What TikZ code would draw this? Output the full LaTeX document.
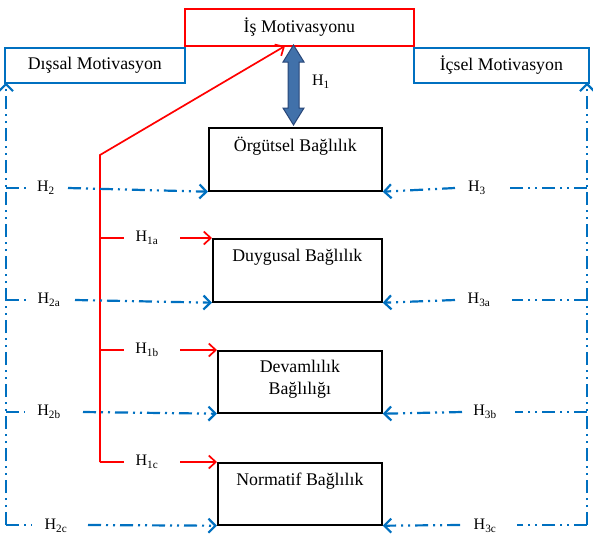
\documentclass[tikz,border=0pt]{standalone}
\usepackage{fontspec}
\setmainfont{Liberation Serif}
\usetikzlibrary{arrows.meta}
\definecolor{bl}{RGB}{0,112,192}
\definecolor{rd}{RGB}{255,0,0}
\definecolor{afill}{RGB}{65,113,170}
\definecolor{aline}{RGB}{40,70,120}
\tikzset{
  box/.style={draw=black,line width=1.7pt,anchor=north west,inner sep=0pt},
  redbox/.style={draw=rd,line width=1.7pt,anchor=north west,inner sep=0pt},
  bluebox/.style={draw=bl,line width=1.7pt,anchor=north west,inner sep=0pt},
  txt/.style={font=\fontsize{17.8}{21}\selectfont,inner sep=0pt,align=center},
  hl/.style={font=\fontsize{16}{18}\selectfont,inner sep=0pt},
  bline/.style={draw=bl,line width=2.2pt,dash pattern=on 13pt off 5pt on 2pt off 5pt on 2pt off 5pt},
  btip/.style={-{Straight Barb[length=7pt,width=14pt,line width=2.2pt]}},
  rline/.style={draw=rd,line width=1.7pt},
  rtip/.style={-{Straight Barb[length=7pt,width=13pt,line width=1.7pt]}},
}
\begin{document}
\begin{tikzpicture}[x=1pt,y=-1pt]
\useasboundingbox (0,0) rectangle (593,555);
% boxes
\node[redbox,minimum width=229pt,minimum height=37pt] (ism) at (184,8) {};
\node[txt] (ismT) at (ism.center) {İş Motivasyonu};
\node[bluebox,minimum width=180pt,minimum height=35pt] (dis) at (4,47) {};
\node[txt] (disT) at (dis.center) {Dışsal Motivasyon};
\node[bluebox,minimum width=175pt,minimum height=35pt] (ic) at (413,47) {};
\node[txt] (icT) at (ic.center) {İçsel Motivasyon};
\node[box,minimum width=173pt,minimum height=63pt] (org) at (208,127) {};
\node[txt] (orgT) at ([yshift=-19pt]org.north) {Örgütsel Bağlılık};
\node[box,minimum width=169pt,minimum height=63pt] (duy) at (212,238) {};
\node[txt] (duyT) at ([yshift=-19pt]duy.north) {Duygusal Bağlılık};
\node[box,minimum width=164pt,minimum height=62pt] (dev) at (217,350) {};
\node[txt] (devT) at ([yshift=-29pt]dev.north) {Devamlılık\\[1pt]Bağlılığı};
\node[box,minimum width=164pt,minimum height=62pt] (nor) at (217,462) {};
\node[txt] (norT) at ([yshift=-19pt]nor.north) {Normatif Bağlılık};

% double arrow
\coordinate (daT) at (293.5,45);
\coordinate (daB) at (293.5,125);
\filldraw[fill=afill,draw=aline,line width=1pt,line join=miter]
  (daT) -- ++(10.5,17) -- ++(-5,0) -- ++(0,46) -- ++(5,0) -- (daB)
  -- ++(-10.5,-17) -- ++(5,0) -- ++(0,-46) -- ++(-5,0) -- cycle;
\node[hl] (h1) at (321,82) {H\textsubscript{1}};

% red lines
\coordinate (rTop) at (100,155);
\coordinate (rTip) at (285,46);
\coordinate (rA) at (100,238);
\coordinate (rB) at (100,350);
\coordinate (rC) at (100,462);
\draw[rline,rtip] (rC) -- (rTop) -- (rTip);
\draw[rline] (rA) -- (124,238);
\draw[rline] (rB) -- (124,350);
\draw[rline] (rC) -- (124,462);
\node[hl] (h1a) at (147,238) {H\textsubscript{1a}};
\node[hl] (h1b) at (147,350) {H\textsubscript{1b}};
\node[hl] (h1c) at (147,462) {H\textsubscript{1c}};
\draw[rline,rtip] (180,238) -- (duy.north west);
\draw[rline,rtip] (180,350) -- (dev.north west);
\draw[rline,rtip] (180,462) -- (nor.north west);

% blue left
\coordinate (lBot) at (6,525);
\draw[bline,btip] (lBot) -- (6,82.5);
\draw[bline] (6,188) -- (26,188);
\draw[bline,btip] (68,188) -- (org.south west);
\node[hl] (h2) at (46,188) {H\textsubscript{2}};
\draw[bline] (6,300) -- (26,300);
\draw[bline,btip] (75,300) -- (duy.south west);
\node[hl] (h2a) at (49,300) {H\textsubscript{2a}};
\draw[bline] (6,412) -- (25,412);
\draw[bline,btip] (83,412) -- (dev.south west);
\node[hl] (h2b) at (49,412) {H\textsubscript{2b}};
\draw[bline] (lBot) -- (32,525);
\draw[bline,btip] (88,525) -- (nor.south west);
\node[hl] (h2c) at (56,526) {H\textsubscript{2c}};

% blue right
\coordinate (rBot) at (587,525);
\draw[bline,btip] (rBot) -- (587,82.5);
\draw[bline] (587,188) -- (507,188);
\draw[bline,btip] (455,188) -- (org.south east);
\node[hl] (h3) at (477,188) {H\textsubscript{3}};
\draw[bline] (587,300) -- (512,300);
\draw[bline,btip] (455,300) -- (duy.south east);
\node[hl] (h3a) at (479,300) {H\textsubscript{3a}};
\draw[bline] (587,412) -- (515,412);
\draw[bline,btip] (462,412) -- (dev.south east);
\node[hl] (h3b) at (485,412) {H\textsubscript{3b}};
\draw[bline] (rBot) -- (517,525);
\draw[bline,btip] (460,525) -- (nor.south east);
\node[hl] (h3c) at (485,526) {H\textsubscript{3c}};
\end{tikzpicture}
\end{document}
